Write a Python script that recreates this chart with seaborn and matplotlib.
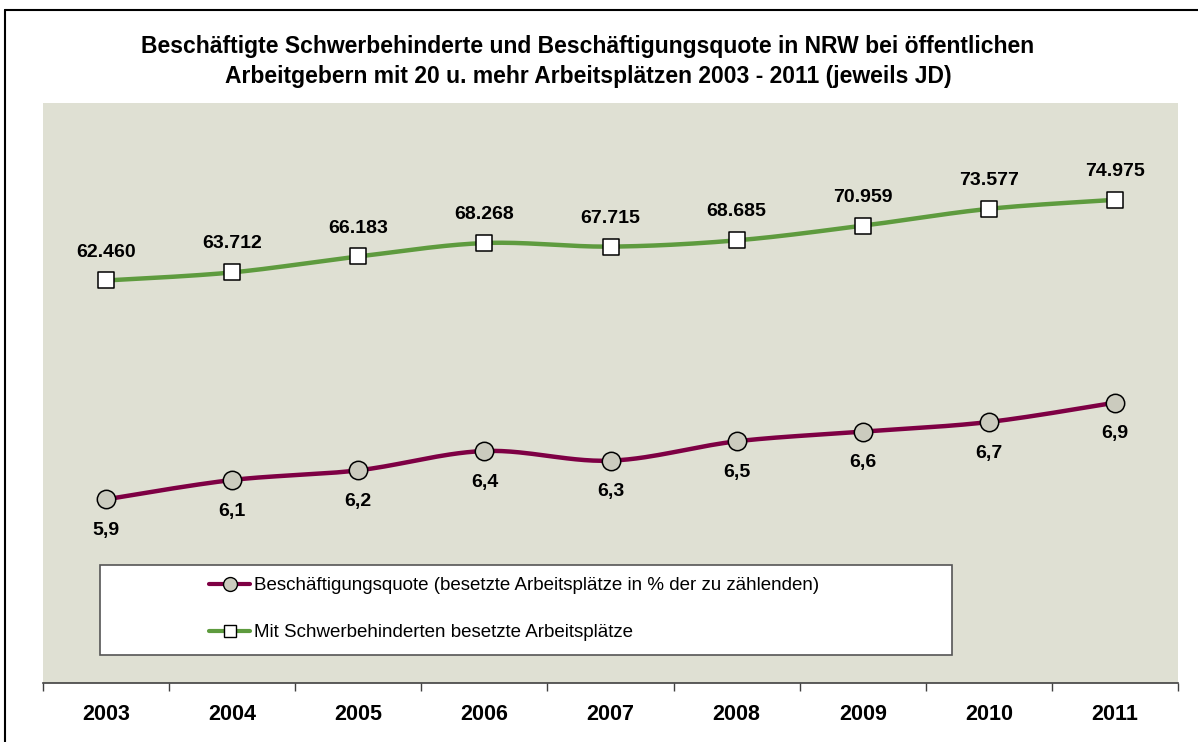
import numpy as np
import matplotlib
matplotlib.use("Agg")
import matplotlib.pyplot as plt
import seaborn as sns
from matplotlib.lines import Line2D
from matplotlib.patches import Rectangle

# ---- data ----
years = ["2003", "2004", "2005", "2006", "2007", "2008", "2009", "2010", "2011"]
quote = [5.9, 6.1, 6.2, 6.4, 6.3, 6.5, 6.6, 6.7, 6.9]
besetzt = [62460, 63712, 66183, 68268, 67715, 68685, 70959, 73577, 74975]
label_quote = "Beschäftigungsquote (besetzte Arbeitsplätze in % der zu zählenden)"
label_besetzt = "Mit Schwerbehinderten besetzte Arbeitsplätze"
title_lines = ["Beschäftigte Schwerbehinderte und Beschäftigungsquote in NRW bei öffentlichen",
               "Arbeitgebern mit 20 u. mehr Arbeitsplätzen 2003 - 2011 (jeweils JD)"]

sns.set_theme(style="white")
plt.rcParams['font.family'] = ['Liberation Sans', 'DejaVu Sans']
plt.rcParams['text.color'] = 'black'
plt.rcParams['xtick.color'] = 'black'

W, H = 1198, 742
BG = "#DFE0D3"
GREEN = "#5E9B3E"
MAROON = "#7E0044"
CIRC_FILL = "#CBCBBE"


def smooth(y, n=30):
    """Excel-style smoothed curve (Bezier through the points)."""
    y = np.asarray(y, float)
    x = np.arange(len(y), dtype=float)
    P = np.column_stack([x, y])
    Pe = np.vstack([P[0], P, P[-1]])
    t = np.linspace(0, 1, n)[:, None]
    out = []
    for i in range(len(y) - 1):
        p0, p1, p2, p3 = Pe[i], Pe[i + 1], Pe[i + 2], Pe[i + 3]
        b1 = p1 + (p2 - p0) / 6.0
        b2 = p2 - (p3 - p1) / 6.0
        seg = (1 - t) ** 3 * p1 + 3 * (1 - t) ** 2 * t * b1 + 3 * (1 - t) * t ** 2 * b2 + t ** 3 * p2
        out.append(seg if i == 0 else seg[1:])
    return np.vstack(out)


fig = plt.figure(figsize=(W / 100, H / 100), dpi=100)
ax = fig.add_axes([43 / W, 1 - 683 / H, (1178 - 43) / W, (683 - 103) / H])
ax.set_facecolor(BG)
ax2 = ax.twinx()
ax2.patch.set_visible(False)

xs = np.arange(len(years))

# quote series (primary axis)
cq = smooth(quote)
sns.lineplot(x=cq[:, 0], y=cq[:, 1], ax=ax, sort=False, estimator=None,
             color=MAROON, lw=3.2, zorder=2)
sns.scatterplot(x=xs, y=quote, ax=ax, marker='o', s=175, color=CIRC_FILL,
                edgecolor='black', linewidth=1.1, zorder=3)

# besetzt series (secondary axis)
cb = smooth(besetzt)
sns.lineplot(x=cb[:, 0], y=cb[:, 1], ax=ax2, sort=False, estimator=None,
             color=GREEN, lw=3.2, zorder=2)
sns.scatterplot(x=xs, y=besetzt, ax=ax2, marker='s', s=120, color='white',
                edgecolor='black', linewidth=1.1, zorder=3)

for i, v in enumerate(quote):
    ax.annotate(f"{v:.1f}".replace('.', ','), (i, v), xytext=(0, -22.5),
                textcoords='offset points', ha='center', va='center',
                fontsize=14, fontweight='bold', color='black')
for i, v in enumerate(besetzt):
    ax2.annotate(f"{v:,}".replace(',', '.'), (i, v), xytext=(0, 20.5),
                 textcoords='offset points', ha='center', va='center',
                 fontsize=14, fontweight='bold', color='black')

ax.set_xlim(-0.5, len(years) - 0.5)
ax.set_ylim(4, 10)
ax2.set_ylim(0, 90000)

ax.set_xticks(xs)
ax.set_xticklabels(years, fontsize=15.5, fontweight='bold', color='black')
ax.set_xticks(np.arange(-0.5, len(years), 1.0), minor=True)
ax.tick_params(axis='x', which='major', length=0, pad=15)
ax.tick_params(axis='x', which='minor', length=6, width=1, color='#404040', direction='out', bottom=True)
ax.set_yticks([])
ax2.set_yticks([])
ax.set_xlabel("")
ax.set_ylabel("")
ax2.set_ylabel("")
for s in ['top', 'left', 'right']:
    ax.spines[s].set_visible(False)
for s in ax2.spines.values():
    s.set_visible(False)
ax.spines['bottom'].set_color('#404040')
ax.spines['bottom'].set_linewidth(1.2)

# legend box
rect = Rectangle((100 / W, 1 - 655 / H), 852 / W, 90 / H, transform=fig.transFigure,
                 facecolor='white', edgecolor='#555555', lw=1.2, zorder=4)
fig.patches.append(rect)
handles = [
    Line2D([], [], color=MAROON, lw=3, marker='o', markersize=10,
           markerfacecolor=CIRC_FILL, markeredgecolor='black', markeredgewidth=1),
    Line2D([], [], color=GREEN, lw=3, marker='s', markersize=9,
           markerfacecolor='white', markeredgecolor='black', markeredgewidth=1),
]
leg = fig.legend(handles, [label_quote, label_besetzt], loc='upper left',
                 bbox_to_anchor=(209 / W, 1 - 577 / H), frameon=False, fontsize=13.5,
                 handlelength=2.2, handletextpad=0.2, labelspacing=1.6,
                 borderaxespad=0, borderpad=0)
for t in leg.get_texts():
    t.set_color('black')
leg.set_zorder(5)

# title
fig.text(588 / W, 1 - 46 / H, title_lines[0], ha='center', va='center',
         fontsize=16.5, fontweight='bold', color='black')
fig.text(588 / W, 1 - 76 / H, title_lines[1], ha='center', va='center',
         fontsize=16.5, fontweight='bold', color='black')

# outer border (left and top visible)
fig.add_artist(Line2D([5 / W, 5 / W], [0, 1 - 10 / H], color='black', lw=1.5))
fig.add_artist(Line2D([5 / W, 1], [1 - 10 / H, 1 - 10 / H], color='black', lw=1.5))

fig.savefig("out.png", dpi=100)
